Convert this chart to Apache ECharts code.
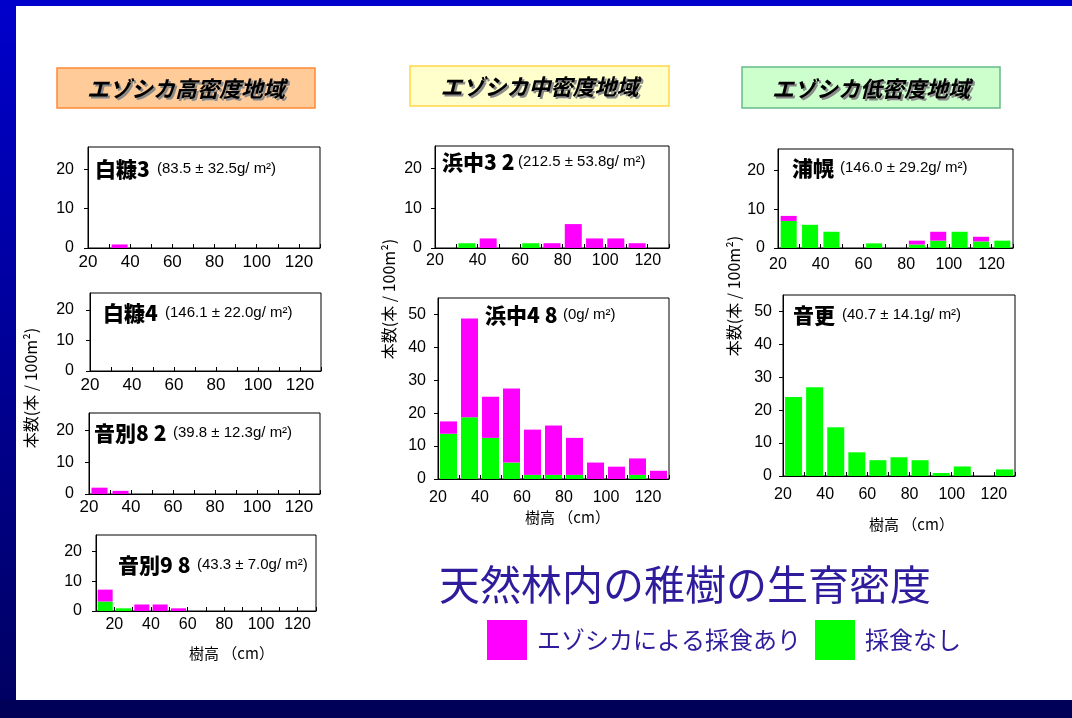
<!DOCTYPE html>
<html><head><meta charset="utf-8">
<script src="https://cdn.jsdelivr.net/npm/echarts@6/dist/echarts.min.js"></script>
<style>html,body{margin:0;padding:0;background:#fff;}#c{width:1072px;height:718px;}</style>
</head><body><div id="c"></div>
<script>
// ---------- data ----------
const binsFrom20 = [20, 30, 40, 50, 60, 70, 80, 90, 100, 110, 120];
const binsFrom10 = [10, 20, 30, 40, 50, 60, 70, 80, 90, 100, 110, 120];
const xTickLabels = [20, 40, 60, 80, 100, 120];
const yTicksSmall = [0, 10, 20];
const yTicksLarge = [0, 10, 20, 30, 40, 50];

const seriesBrowsedName = 'エゾシカによる採食あり';
const seriesUnbrowsedName = '採食なし';

const regionTitles = ['エゾシカ高密度地域', 'エゾシカ中密度地域', 'エゾシカ低密度地域'];
const mainTitle = '天然林内の稚樹の生育密度';
const yAxisTitle = '本数(本 / 100m²)';
const xAxisTitle = '樹高 （cm）';

const siteNames = ['白糠3', '白糠4', '音別82', '音別98', '浜中32', '浜中48', '浦幌', '音更'];
const siteNotes = ['(83.5 ± 32.5g/ m²)', '(146.1 ± 22.0g/ m²)', '(39.8 ± 12.3g/ m²)', '(43.3 ± 7.0g/ m²)',
                   '(212.5 ± 53.8g/ m²)', '(0g/ m²)', '(146.0 ± 29.2g/ m²)', '(40.7 ± 14.1g/ m²)'];

// stacked components: unbrowsed (green, bottom) + browsed (magenta, on top)
const shiranuka3Unbrowsed = [0, 0, 0, 0, 0, 0, 0, 0, 0, 0, 0];
const shiranuka3Browsed   = [0, 0.9, 0, 0, 0, 0, 0, 0, 0, 0, 0];
const shiranuka4Unbrowsed = [0, 0, 0, 0, 0, 0, 0, 0, 0, 0, 0];
const shiranuka4Browsed   = [0, 0, 0, 0, 0, 0, 0, 0, 0, 0, 0];
const onbetsu82Unbrowsed  = [0, 0, 0, 0, 0, 0, 0, 0, 0, 0, 0];
const onbetsu82Browsed    = [2.0, 1.0, 0, 0, 0, 0, 0, 0, 0, 0, 0];
const onbetsu98Unbrowsed  = [3.2, 0.9, 0, 0, 0, 0, 0, 0, 0, 0, 0, 0];
const onbetsu98Browsed    = [4.0, 0, 2.2, 2.2, 0.9, 0, 0, 0, 0, 0, 0, 0];
const hamanaka32Unbrowsed = [0, 1.2, 0, 0, 1.2, 0, 0, 0, 0, 0, 0];
const hamanaka32Browsed   = [0, 0, 2.4, 0, 0, 1.2, 6.0, 2.4, 2.4, 1.2, 0];
const hamanaka48Unbrowsed = [13.75, 18.75, 12.5, 5, 1.25, 1.25, 1.25, 0, 0, 1.25, 0];
const hamanaka48Browsed   = [3.75, 30, 12.5, 22.5, 13.75, 15, 11.25, 5, 3.75, 5, 2.5];
const urahoroUnbrowsed    = [7.0, 6.0, 4.2, 0, 1.2, 0, 0.9, 1.9, 4.2, 1.7, 1.9];
const urahoroBrowsed      = [1.3, 0, 0, 0, 0, 0, 1.0, 2.3, 0, 1.2, 0];
const otofukeUnbrowsed    = [24, 27, 14.8, 7.2, 4.8, 5.7, 4.8, 0.9, 2.9, 0, 2.0];
const otofukeBrowsed      = [0, 0, 0, 0, 0, 0, 0, 0, 0, 0, 0];

const siteBins = [binsFrom20, binsFrom20, binsFrom20, binsFrom10, binsFrom20, binsFrom20, binsFrom20, binsFrom20];
const siteUnbrowsed = [shiranuka3Unbrowsed, shiranuka4Unbrowsed, onbetsu82Unbrowsed, onbetsu98Unbrowsed,
                       hamanaka32Unbrowsed, hamanaka48Unbrowsed, urahoroUnbrowsed, otofukeUnbrowsed];
const siteBrowsed = [shiranuka3Browsed, shiranuka4Browsed, onbetsu82Browsed, onbetsu98Browsed,
                     hamanaka32Browsed, hamanaka48Browsed, urahoroBrowsed, otofukeBrowsed];
const siteYTicks = [yTicksSmall, yTicksSmall, yTicksSmall, yTicksSmall, yTicksSmall, yTicksLarge, yTicksSmall, yTicksLarge];

// ---------- layout / style ----------
const L = [
  {left: 88,  top: 147, width: 232, height: 101, yMax: 25.6, bw: 16, xf: 17, xm: 6,  ym: 14, nx: 95,  ny: 169, tx: 157, ty: 169},
  {left: 90,  top: 293, width: 231, height: 78,  yMax: 25.6, bw: 16, xf: 17, xm: 6,  ym: 16, nx: 103, ny: 313, tx: 165, ty: 313},
  {left: 89,  top: 413, width: 231, height: 81,  yMax: 25.6, bw: 16, xf: 17, xm: 5,  ym: 15, nx: 94,  ny: 433, tx: 173, ty: 433},
  {left: 96,  top: 535, width: 220, height: 76,  yMax: 25.6, bw: 15, xf: 16, xm: 6,  ym: 14, nx: 118, ny: 565, tx: 197, ty: 565},
  {left: 435, top: 146, width: 234, height: 102, yMax: 25.6, bw: 17, xf: 16, xm: 5,  ym: 13, nx: 442, ny: 162, tx: 518, ty: 162},
  {left: 438, top: 298, width: 231, height: 181, yMax: 55,   bw: 17, xf: 16, xm: 11, ym: 12, nx: 485, ny: 315, tx: 563, ty: 315},
  {left: 778, top: 149, width: 235, height: 99,  yMax: 25.6, bw: 16, xf: 16, xm: 9,  ym: 13, nx: 792, ny: 168, tx: 840, ty: 168},
  {left: 783, top: 295, width: 232, height: 181, yMax: 55,   bw: 17, xf: 16, xm: 11, ym: 11, nx: 793, ny: 315, tx: 842, ty: 315}
];
const MAGENTA = '#ff00ff', GREEN = '#00ff00';
const CJK = '"Noto Sans CJK JP", sans-serif';
const LAT = '"Liberation Sans", Arial, sans-serif';
const BLUE_TXT = '#2e1c9c';

const grid = [], xAxis = [], yAxis = [], series = [], title = [];
siteBins.forEach((bins, i) => {
  const l = L[i];
  const edges = bins.concat([bins[bins.length - 1] + 10]);
  grid.push({left: l.left, top: l.top, width: l.width, height: l.height, show: true,
             borderColor: '#000', borderWidth: 1, backgroundColor: '#fff'});
  // category axis carrying the bars (one band per height class)
  xAxis.push({gridIndex: i, type: 'category', data: bins.map(String), boundaryGap: true, position: 'bottom',
    axisLine: {show: false}, axisTick: {show: false}, axisLabel: {show: false}, splitLine: {show: false}});
  // value axis in cm for ticks and labels
  xAxis.push({gridIndex: i, type: 'value', position: 'bottom', min: edges[0], max: edges[edges.length - 1], interval: 10,
    axisLine: {show: true, onZero: false, lineStyle: {color: '#000', width: 1}},
    axisTick: {show: true, inside: true, length: 4, customValues: edges, lineStyle: {color: '#000'}},
    splitLine: {show: false},
    axisLabel: {customValues: xTickLabels, color: '#000', fontSize: l.xf, fontFamily: LAT, margin: l.xm}});
  yAxis.push({gridIndex: i, type: 'value', min: 0, max: l.yMax,
    axisLine: {show: true, lineStyle: {color: '#000', width: 1}},
    axisTick: {show: true, inside: false, length: 4, customValues: siteYTicks[i], lineStyle: {color: '#000'}},
    splitLine: {show: false},
    axisLabel: {customValues: siteYTicks[i], color: '#000', fontSize: 16, fontFamily: LAT, margin: l.ym}});
  series.push({type: 'bar', name: seriesUnbrowsedName, xAxisIndex: 2 * i, yAxisIndex: i, stack: 'p' + i,
    barWidth: l.bw, itemStyle: {color: GREEN}, silent: true, data: siteUnbrowsed[i]});
  series.push({type: 'bar', name: seriesBrowsedName, xAxisIndex: 2 * i, yAxisIndex: i, stack: 'p' + i,
    barWidth: l.bw, itemStyle: {color: MAGENTA}, silent: true, data: siteBrowsed[i]});
  // site name: kanji + (spaced) digits
  const m = siteNames[i].match(/^(\D+)(\d*)$/);
  let txt = '{c|' + m[1] + '}';
  m[2].split('').forEach((d, k) => { txt += (k === 0 ? '{d|' : '{e|') + d + '}'; });
  title.push({left: l.nx, top: l.ny - 13, padding: 0, text: txt,
    textStyle: {rich: {
      c: {fontSize: 21, fontWeight: 900, fontFamily: CJK, color: '#000', lineHeight: 26, verticalAlign: 'middle'},
      d: {fontSize: 21, fontWeight: 900, fontFamily: CJK, color: '#000', lineHeight: 26, verticalAlign: 'middle'},
      e: {fontSize: 21, fontWeight: 900, fontFamily: CJK, color: '#000', lineHeight: 26, verticalAlign: 'middle', padding: [0, 0, 0, 5]}}}});
  title.push({left: l.tx, top: l.ty - 10, padding: 0, text: siteNotes[i],
    textStyle: {fontSize: 15, fontWeight: 'normal', fontFamily: LAT, color: '#000', lineHeight: 20}});
});

// ---------- decorative / annotation graphics ----------
const graphic = [
  {type: 'rect', shape: {x: 0, y: 0, width: 1072, height: 6}, style: {fill: '#0000cc'}, silent: true},
  {type: 'rect', shape: {x: 0, y: 0, width: 16, height: 718}, silent: true,
   style: {fill: new echarts.graphic.LinearGradient(0, 0, 0, 1, [{offset: 0, color: '#0000cc'}, {offset: 1, color: '#000060'}])}},
  {type: 'rect', shape: {x: 0, y: 700, width: 1072, height: 18}, style: {fill: '#000058'}, silent: true}
];
const boxes = [
  {x: 57, y: 68, w: 258, h: 40, fill: '#ffcc99', stroke: '#ff8833'},
  {x: 410, y: 66, w: 259, h: 40, fill: '#ffffcc', stroke: '#ffd84a'},
  {x: 742, y: 67, w: 258, h: 41, fill: '#ccffcc', stroke: '#66bb88'}
];
boxes.forEach((b, i) => {
  graphic.push({type: 'rect', shape: {x: b.x, y: b.y, width: b.w, height: b.h}, silent: true,
    style: {fill: b.fill, stroke: b.stroke, lineWidth: 1.5}});
  const cx = b.x + b.w / 2, cy = b.y + b.h / 2 + 1;
  graphic.push({type: 'text', x: cx + 2, y: cy + 2, silent: true,
    style: {text: regionTitles[i], font: 'italic bold 22px ' + CJK, fill: '#8a8a8a', align: 'center', verticalAlign: 'middle'}});
  graphic.push({type: 'text', x: cx, y: cy, silent: true,
    style: {text: regionTitles[i], font: 'italic bold 22px ' + CJK, fill: '#000', align: 'center', verticalAlign: 'middle'}});
});
[[31, 388], [389, 299], [734, 296]].forEach(p => {
  graphic.push({type: 'text', x: p[0], y: p[1], rotation: Math.PI / 2, silent: true,
    style: {text: yAxisTitle, font: '16px ' + CJK, fill: '#000', align: 'center', verticalAlign: 'middle'}});
});
[[189, 653], [525, 517], [869, 524]].forEach(p => {
  graphic.push({type: 'text', x: p[0], y: p[1], silent: true,
    style: {text: xAxisTitle, font: '15px ' + CJK, fill: '#000', align: 'left', verticalAlign: 'middle'}});
});
graphic.push({type: 'text', x: 439, y: 584, silent: true,
  style: {text: mainTitle, font: '41px ' + CJK, fill: BLUE_TXT, align: 'left', verticalAlign: 'middle'}});

const chart = echarts.init(document.getElementById('c'), null, {renderer: 'canvas'});
chart.setOption({
  backgroundColor: '#fff',
  animation: false,
  title: title,
  grid: grid,
  xAxis: xAxis,
  yAxis: yAxis,
  series: series,
  graphic: graphic,
  legend: {data: [seriesBrowsedName, seriesUnbrowsedName], left: 487, top: 620, padding: 0,
    orient: 'horizontal', icon: 'rect', itemWidth: 40, itemHeight: 40, itemGap: 14, selectedMode: false,
    itemStyle: {borderWidth: 0},
    textStyle: {fontSize: 24, color: BLUE_TXT, fontFamily: CJK, padding: [0, 0, 0, 5]}}
});
</script>
</body></html>
